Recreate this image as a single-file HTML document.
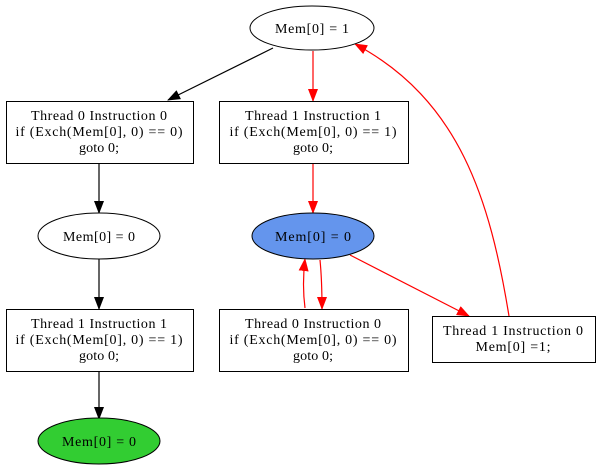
<!DOCTYPE html>
<html><head><meta charset="utf-8"><style>
html,body{margin:0;padding:0;background:#fff;width:600px;height:472px;overflow:hidden}
text{font-family:"Liberation Serif",serif;font-size:14px;text-anchor:middle}
</style></head><body>
<svg width="600" height="472" viewBox="0 0 600 472" xmlns="http://www.w3.org/2000/svg">
<defs>
<marker id="ab" markerWidth="13" markerHeight="10" refX="12" refY="5" orient="auto" markerUnits="userSpaceOnUse"><path d="M0,0 L13,5 L0,10 Z" fill="#000"/></marker>
<marker id="ar" markerWidth="13" markerHeight="10" refX="12" refY="5" orient="auto" markerUnits="userSpaceOnUse"><path d="M0,0 L13,5 L0,10 Z" fill="red"/></marker>
</defs>
<g fill="none" stroke-width="1.2">
<line x1="273" y1="48" x2="168" y2="100" stroke="#000" marker-end="url(#ab)"/>
<line x1="313" y1="51" x2="313" y2="101" stroke="red" marker-end="url(#ar)"/>
<line x1="99" y1="163" x2="99" y2="213" stroke="#000" marker-end="url(#ab)"/>
<line x1="313" y1="163" x2="313" y2="213" stroke="red" marker-end="url(#ar)"/>
<line x1="99" y1="259" x2="99" y2="309" stroke="#000" marker-end="url(#ab)"/>
<line x1="99" y1="371" x2="99" y2="419" stroke="#000" marker-end="url(#ab)"/>
<line x1="350" y1="255" x2="469" y2="316" stroke="red" marker-end="url(#ar)"/>
<path d="M320,260 Q322,280 322,309" stroke="red" marker-end="url(#ar)"/>
<path d="M305,308 Q302,285 305,259" stroke="red" marker-end="url(#ar)"/>
<path d="M509,316 C490,200 460,100 355,44" stroke="red" marker-end="url(#ar)"/>
</g>
<g stroke="#000" stroke-width="1">
<ellipse cx="312" cy="28" rx="62" ry="22" fill="#fff"/>
<rect x="6.5" y="101.5" width="187" height="62" fill="#fff"/>
<rect x="219.5" y="101.5" width="189" height="62" fill="#fff"/>
<ellipse cx="99" cy="236" rx="61" ry="23" fill="#fff"/>
<ellipse cx="313" cy="236" rx="61" ry="23" fill="#6495ed"/>
<rect x="6.5" y="309.5" width="187" height="62" fill="#fff"/>
<rect x="219.5" y="309.5" width="189" height="62" fill="#fff"/>
<rect x="432.5" y="316.5" width="163" height="46" fill="#fff"/>
<ellipse cx="99" cy="441" rx="61" ry="23" fill="#32cd32"/>
</g>
<text x="312" y="33" textLength="74">Mem[0] = 1</text>
<text x="99" y="120" textLength="136">Thread 0 Instruction 0</text>
<text x="99" y="136" textLength="167">if (Exch(Mem[0], 0) == 0)</text>
<text x="99" y="152" textLength="40">goto 0;</text>
<text x="313" y="120" textLength="136">Thread 1 Instruction 1</text>
<text x="313" y="136" textLength="167">if (Exch(Mem[0], 0) == 1)</text>
<text x="313" y="152" textLength="40">goto 0;</text>
<text x="99" y="241" textLength="72">Mem[0] = 0</text>
<text x="313" y="241" textLength="76">Mem[0] = 0</text>
<text x="99" y="328" textLength="136">Thread 1 Instruction 1</text>
<text x="99" y="344" textLength="167">if (Exch(Mem[0], 0) == 1)</text>
<text x="99" y="360" textLength="40">goto 0;</text>
<text x="313" y="328" textLength="136">Thread 0 Instruction 0</text>
<text x="313" y="344" textLength="167">if (Exch(Mem[0], 0) == 0)</text>
<text x="313" y="360" textLength="40">goto 0;</text>
<text x="513" y="335" textLength="140">Thread 1 Instruction 0</text>
<text x="513" y="351" textLength="75">Mem[0] =1;</text>
<text x="99" y="446" textLength="74">Mem[0] = 0</text>
</svg>
</body></html>
